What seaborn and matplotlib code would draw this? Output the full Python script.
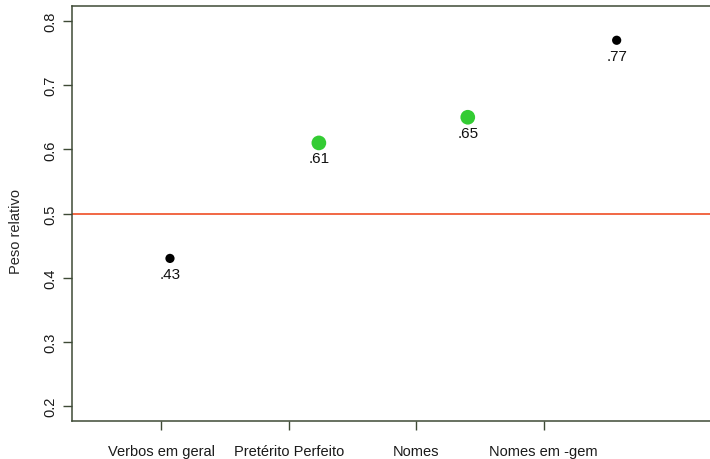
import matplotlib
matplotlib.use("Agg")
import matplotlib.pyplot as plt
import seaborn as sns
import pandas as pd

# Relative weights per category
categorias = ["Verbos em geral", "Pretérito Perfeito", "Nomes", "Nomes em -gem"]
pesos = [0.43, 0.61, 0.65, 0.77]
grupos = ["geral", "destaque", "destaque", "geral"]
yticks = [0.2, 0.3, 0.4, 0.5, 0.6, 0.7, 0.8]
referencia = 0.5

df = pd.DataFrame({
    "pos": range(1, len(categorias) + 1),
    "peso": pesos,
    "grupo": grupos,
})

sns.set_theme(style="ticks")
plt.rcParams["font.family"] = ["Liberation Sans", "DejaVu Sans"]

eixo_cor = "#3e4a36"
fig = plt.figure(figsize=(7.1, 4.6), dpi=100)
ax = fig.add_axes([72 / 710, 38 / 460, 648 / 710, 415 / 460])

ax.axhline(referencia, color="#ee3f12", lw=1.1, zorder=1)

sns.scatterplot(
    data=df, x="pos", y="peso", hue="grupo", size="grupo",
    palette={"geral": "black", "destaque": "#33cc33"},
    sizes={"geral": 44, "destaque": 112},
    edgecolor="none", legend=False, ax=ax, zorder=3,
)

for p, v in zip(df["pos"], df["peso"]):
    ax.annotate(f"{v:.2f}".lstrip("0"), (p, v), xytext=(0, -11),
                textcoords="offset points", ha="center", va="center",
                fontsize=11, color="#111111")

# category ticks sit slightly left of the points, spaced more tightly
ax.set_xticks([0.94, 1.80, 2.65, 3.51])
ax.set_xticklabels(categorias, fontsize=10.5)
ax.set_xlim(0.342, 4.694)
ax.set_ylim(0.1766, 0.8234)
ax.set_yticks(yticks)
ax.set_yticklabels([f"{t:.1f}" for t in yticks], rotation=90, va="center", fontsize=10.5)

ax.set_xlabel("")
ax.set_ylabel("Peso relativo", fontsize=10.5)
ax.yaxis.set_label_coords(-0.076, 0.46)

for s in ax.spines.values():
    s.set_color(eixo_cor)
    s.set_linewidth(1.1)
ax.tick_params(axis="both", direction="out", length=6.5, width=1, color=eixo_cor,
               labelcolor="#1a1a1a")
ax.tick_params(axis="x", pad=10)
ax.tick_params(axis="y", pad=4)

fig.savefig("out.png", dpi=100)
